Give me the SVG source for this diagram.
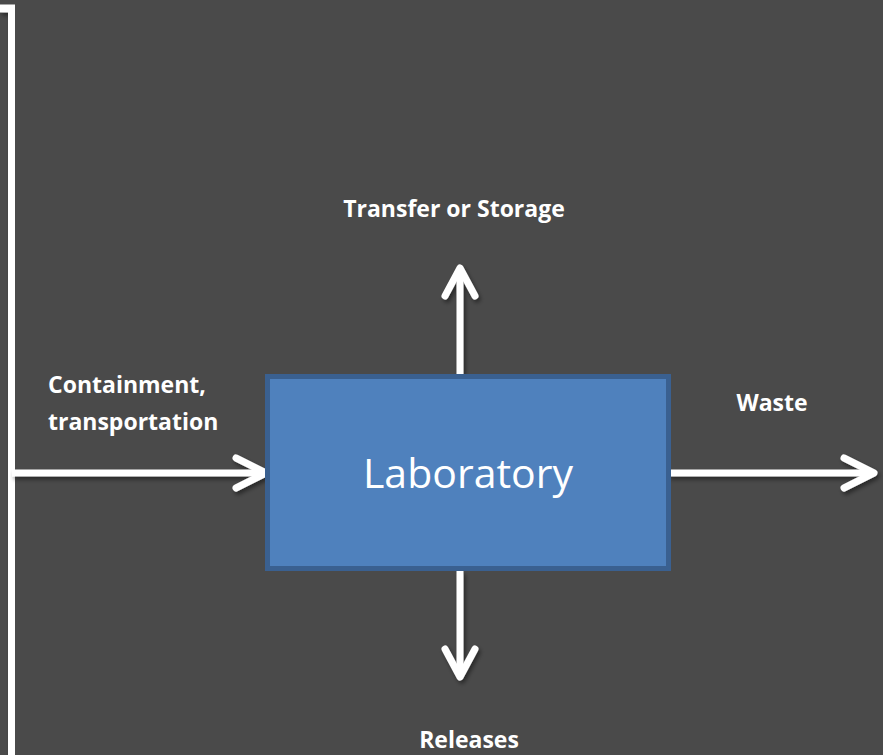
<svg xmlns="http://www.w3.org/2000/svg" width="883" height="755" viewBox="0 0 883 755">
<style>
.lbl{font-family:"Open Sans","Liberation Sans",sans-serif;font-weight:bold;font-size:23px;fill:#ffffff}
.conn{stroke:#ffffff;stroke-width:7;fill:none;stroke-linecap:round;stroke-linejoin:round}
.shaft{stroke:#ffffff;stroke-width:7;fill:none}
</style>
<defs>
<filter id="sh" x="-10%" y="-10%" width="130%" height="130%">
<feGaussianBlur in="SourceAlpha" stdDeviation="2"/>
<feOffset dx="2" dy="3" result="b"/>
<feComponentTransfer><feFuncA type="linear" slope="0.45"/></feComponentTransfer>
<feMerge><feMergeNode/><feMergeNode in="SourceGraphic"/></feMerge>
</filter>
</defs>
<rect width="883" height="755" fill="#4a4a4a"/>
<g id="bracket" filter="url(#sh)">
<path d="M0 8.5 H12 V755" stroke="#ffffff" stroke-width="8" fill="none"/>
</g>
<g id="connectors" filter="url(#sh)">
<line class="shaft" x1="12" y1="473" x2="264" y2="473"/>
<path class="conn" d="M236 458 L266 473 L236 488"/>
<line class="shaft" x1="668" y1="473" x2="872" y2="473"/>
<path class="conn" d="M844 458 L874 473 L844 488"/>
<line class="shaft" x1="460" y1="374" x2="460" y2="270"/>
<path class="conn" d="M445 296 L460 268 L475 296"/>
<line class="shaft" x1="460" y1="571" x2="460" y2="675"/>
<path class="conn" d="M445 649 L460 677 L475 649"/>
</g>
<g id="laboratory">
<rect x="267.5" y="376.5" width="401" height="192" fill="#4f81bd" stroke="#3a6090" stroke-width="5"/>
<text x="468" y="488" text-anchor="middle" font-family="'Open Sans','Liberation Sans',sans-serif" font-size="41" fill="#ffffff">Laboratory</text>
</g>
<g id="label-transfer"><text class="lbl" x="454" y="217" text-anchor="middle">Transfer or Storage</text></g>
<g id="label-containment"><text class="lbl" x="48" y="393">Containment,</text><text class="lbl" x="48" y="430">transportation</text></g>
<g id="label-waste"><text class="lbl" x="772" y="411" text-anchor="middle">Waste</text></g>
<g id="label-releases"><text class="lbl" x="469" y="748" text-anchor="middle">Releases</text></g>
</svg>
